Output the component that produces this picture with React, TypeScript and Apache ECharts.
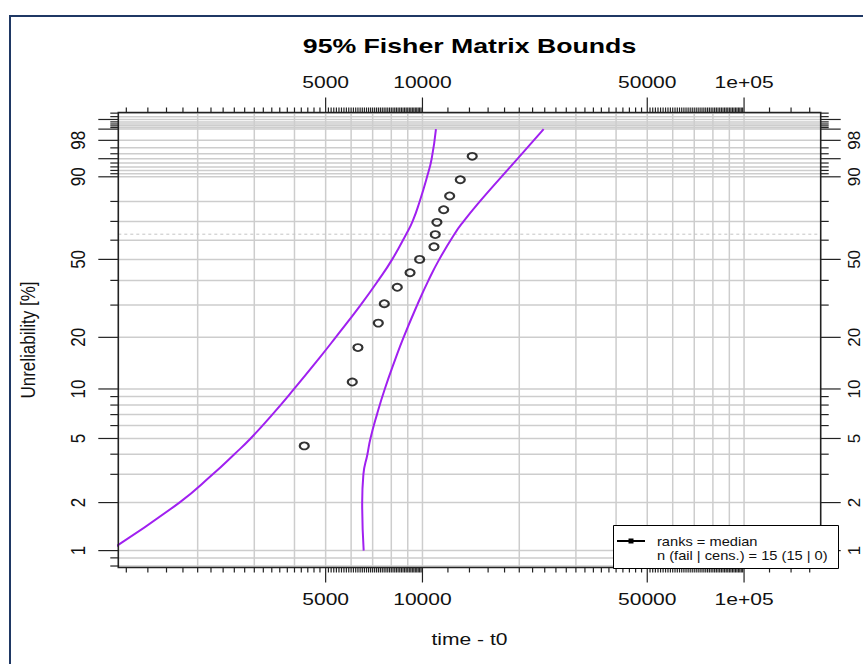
import React, { useEffect, useRef } from "react";
import * as echarts from "echarts";

// ---------- texts ----------
const chartTitle = "95% Fisher Matrix Bounds";
const xAxisTitle = "time - t0";
const yAxisTitle = "Unreliability [%]";
const legendLines = ["ranks = median", "n (fail | cens.) = 15 (15 | 0)"];

// ---------- data ----------
const failureTimes = [4290, 6050, 6300, 7290, 7610, 8350, 9150, 9800, 10860, 10960, 11090, 11640, 12150, 13110, 14280];
const medianRanksPct = [4.5, 11.0, 17.5, 24.0, 30.5, 37.0, 43.5, 50.0, 56.5, 63.0, 69.5, 76.0, 82.5, 89.0, 95.5];

const boundPct = [1, 2, 3, 4, 5, 7, 10, 15, 20, 30, 40, 50, 63.2, 70, 80, 90, 95, 99];
const lowerBoundTimes = [1064, 1755, 2228, 2601, 2921, 3412, 3989, 4750, 5372, 6420, 7290, 8052, 8899, 9316, 9802, 10335, 10681, 11014];
const upperBoundTimes = [6565, 6495, 6551, 6744, 6891, 7218, 7636, 8234, 8735, 9628, 10439, 11278, 12564, 13422, 15083, 17597, 19770, 23815];

// ---------- axes ----------
const xRange = [1133, 173100];
const yRangePct = [0.783, 99.716];

const xMajorTicks = [5000, 10000, 50000, 100000];
const xTickLabels = ["5000", "10000", "50000", "1e+05"];
const xMinorTickRuns = [
  [1200, 5000, 200],
  [5000, 10000, 100],
  [10000, 50000, 2000],
  [50000, 100000, 1000],
  [100000, 160000, 20000],
];
const xGridValues = [2000, 3000, 4000, 5000, 6000, 7000, 8000, 9000, 10000, 20000, 30000, 40000, 50000, 60000, 70000, 80000, 90000, 100000];

const yLabelPct = [1, 2, 5, 10, 20, 50, 90, 98];
const yTickLabels = ["1", "2", "5", "10", "20", "50", "90", "98"];
const yMajorTickPct = [1, 2, 5, 10, 20, 50, 90, 95, 98, 99, 99.5];
const yMinorTickPct = [0.8, 0.9, 3, 4, 6, 7, 8, 9, 30, 40, 60, 70, 80, 91, 92, 93, 94, 96, 97, 99.1, 99.2, 99.3, 99.4, 99.6, 99.7];
const charLifePct = 63.2;

// Weibull probability transform
const W = (p: number) => Math.log(-Math.log(1 - p / 100));

const X_MIN = xRange[0];
const X_MAX = xRange[1];
const Y_MIN = W(yRangePct[0]);
const Y_MAX = W(yRangePct[1]);

const FONT = "'Liberation Sans', Arial, Helvetica, sans-serif";
const GRID_COLOR = "#cdcdcd";
const BOUND_COLOR = "#A020F0";
const STRETCH = 1.24;

function buildOption() {
  const xMinorTicks: number[] = [];
  for (const [a, b, s] of xMinorTickRuns) {
    for (let v = a; v <= b; v += s) {
      if (!xMajorTicks.includes(v) && !xMinorTicks.includes(v)) xMinorTicks.push(v);
    }
  }
  const yGridPct = [...yMajorTickPct, ...yMinorTickPct];

  const tickStyle = { stroke: "#222", lineWidth: 1.2 };

  return {
    animation: false,
    backgroundColor: "#ffffff",
    grid: { left: 118.3, top: 112.5, width: 702.4, height: 455, containLabel: false, outerBoundsMode: "none" },
    xAxis: {
      type: "log",
      logBase: 10,
      min: X_MIN,
      max: X_MAX,
      axisLine: { show: false },
      axisTick: { show: false },
      axisLabel: { show: false },
      splitLine: { show: false },
    },
    yAxis: {
      type: "value",
      min: Y_MIN,
      max: Y_MAX,
      axisLine: { show: false },
      axisTick: { show: false },
      axisLabel: { show: false },
      splitLine: { show: false },
    },
    series: [
      // vertical grid lines
      {
        type: "custom",
        z: 1,
        silent: true,
        data: xGridValues.map((v) => [v, Y_MIN]),
        renderItem: (_p: any, api: any) => {
          const v = api.value(0);
          const a = api.coord([v, Y_MIN]);
          const b = api.coord([v, Y_MAX]);
          return { type: "line", shape: { x1: a[0], y1: a[1], x2: b[0], y2: b[1] }, style: { stroke: GRID_COLOR, lineWidth: 1.5 } };
        },
      },
      // horizontal grid lines
      {
        type: "custom",
        z: 1,
        silent: true,
        data: yGridPct.map((p) => [X_MIN, W(p)]),
        renderItem: (_p: any, api: any) => {
          const y = api.value(1);
          const a = api.coord([X_MIN, y]);
          const b = api.coord([X_MAX, y]);
          return { type: "line", shape: { x1: a[0], y1: a[1], x2: b[0], y2: b[1] }, style: { stroke: GRID_COLOR, lineWidth: 1.5 } };
        },
      },
      // characteristic life dashed line
      {
        type: "custom",
        z: 1,
        silent: true,
        data: [[X_MIN, W(charLifePct)]],
        renderItem: (_p: any, api: any) => {
          const y = api.value(1);
          const a = api.coord([X_MIN, y]);
          const b = api.coord([X_MAX, y]);
          return {
            type: "line",
            shape: { x1: a[0], y1: a[1], x2: b[0], y2: b[1] },
            style: { stroke: "#c4c4c4", lineWidth: 1, lineDash: [3, 3] },
          };
        },
      },
      // bounds
      {
        name: "lower",
        type: "line",
        z: 3,
        silent: true,
        smooth: 0.5,
        symbol: "none",
        clip: true,
        lineStyle: { color: BOUND_COLOR, width: 2 },
        data: lowerBoundTimes.map((t, i) => [t, W(boundPct[i])]),
      },
      {
        name: "upper",
        type: "line",
        z: 3,
        silent: true,
        smooth: 0.5,
        symbol: "none",
        clip: true,
        lineStyle: { color: BOUND_COLOR, width: 2 },
        data: upperBoundTimes.map((t, i) => [t, W(boundPct[i])]),
      },
      // points
      {
        name: "ranks",
        type: "scatter",
        z: 4,
        silent: true,
        symbol: "circle",
        symbolSize: [9, 7],
        itemStyle: { color: "rgba(255,255,255,0)", borderColor: "#000", borderWidth: 2 },
        data: failureTimes.map((t, i) => [t, W(medianRanksPct[i])]),
      },
      // plot box
      {
        type: "custom",
        z: 5,
        silent: true,
        data: [[X_MIN, Y_MIN]],
        renderItem: (_p: any, api: any) => {
          const a = api.coord([X_MIN, Y_MAX]);
          const b = api.coord([X_MAX, Y_MIN]);
          return {
            type: "rect",
            shape: { x: a[0], y: a[1], width: b[0] - a[0], height: b[1] - a[1] },
            style: { fill: "none", stroke: "#222", lineWidth: 1.6 },
          };
        },
      },
      // x ticks (top and bottom)
      {
        type: "custom",
        z: 5,
        silent: true,
        data: [...xMinorTicks.map((v) => [v, Y_MIN, 0]), ...xMajorTicks.map((v) => [v, Y_MIN, 1])],
        renderItem: (_p: any, api: any) => {
          const v = api.value(0);
          const len = api.value(2) ? 15 : 5;
          const b = api.coord([v, Y_MIN]);
          const t = api.coord([v, Y_MAX]);
          return {
            type: "group",
            children: [
              { type: "line", shape: { x1: b[0], y1: b[1], x2: b[0], y2: b[1] + len }, style: tickStyle },
              { type: "line", shape: { x1: t[0], y1: t[1], x2: t[0], y2: t[1] - len }, style: tickStyle },
            ],
          };
        },
      },
      // y ticks (left and right)
      {
        type: "custom",
        z: 5,
        silent: true,
        data: [...yMinorTickPct.map((p) => [X_MIN, W(p), 0]), ...yMajorTickPct.map((p) => [X_MIN, W(p), 1])],
        renderItem: (_p: any, api: any) => {
          const y = api.value(1);
          const len = api.value(2) ? 20 : 8;
          const l = api.coord([X_MIN, y]);
          const r = api.coord([X_MAX, y]);
          return {
            type: "group",
            children: [
              { type: "line", shape: { x1: l[0], y1: l[1], x2: l[0] - len, y2: l[1] }, style: tickStyle },
              { type: "line", shape: { x1: r[0], y1: r[1], x2: r[0] + len, y2: r[1] }, style: tickStyle },
            ],
          };
        },
      },
      // x tick labels
      {
        type: "custom",
        z: 6,
        silent: true,
        data: xMajorTicks.map((v, i) => [v, Y_MIN, i]),
        renderItem: (_p: any, api: any) => {
          const v = api.value(0);
          const i = api.value(2);
          const b = api.coord([v, Y_MIN]);
          const t = api.coord([v, Y_MAX]);
          const mk = (y: number) => ({
            type: "text",
            x: b[0],
            y,
            scaleX: STRETCH,
            style: { text: xTickLabels[i], fontSize: 17, fontFamily: FONT, fill: "#111", align: "center", verticalAlign: "middle" },
          });
          return { type: "group", children: [mk(b[1] + 32), mk(t[1] - 30)] };
        },
      },
      // y tick labels
      {
        type: "custom",
        z: 6,
        silent: true,
        data: yLabelPct.map((p, i) => [X_MIN, W(p), i]),
        renderItem: (_p: any, api: any) => {
          const y = api.value(1);
          const i = api.value(2);
          const l = api.coord([X_MIN, y]);
          const r = api.coord([X_MAX, y]);
          const mk = (x: number, sy: number) => ({
            type: "text",
            x,
            y: l[1],
            rotation: Math.PI / 2,
            scaleY: sy,
            style: { text: yTickLabels[i], fontSize: 17, fontFamily: FONT, fill: "#111", align: "center", verticalAlign: "middle" },
          });
          return { type: "group", children: [mk(l[0] - 40, 1.2), mk(r[0] + 34, 1.0)] };
        },
      },
    ],
    graphic: [
      // outer frame
      {
        type: "rect",
        z: 100,
        silent: true,
        shape: { x: 10, y: 16, width: 1000, height: 1000 },
        style: { fill: "none", stroke: "#1F3864", lineWidth: 2 },
      },
      {
        type: "text",
        z: 100,
        x: 469.5,
        y: 46,
        scaleX: 1.27,
        style: { text: chartTitle, fontSize: 21, fontWeight: "bold", fontFamily: FONT, fill: "#000", align: "center", verticalAlign: "middle" },
      },
      {
        type: "text",
        z: 100,
        x: 469.5,
        y: 639,
        scaleX: STRETCH,
        style: { text: xAxisTitle, fontSize: 17, fontFamily: FONT, fill: "#111", align: "center", verticalAlign: "middle" },
      },
      {
        type: "text",
        z: 100,
        x: 28,
        y: 340,
        rotation: Math.PI / 2,
        scaleY: 1.2,
        style: { text: yAxisTitle, fontSize: 17, fontFamily: FONT, fill: "#111", align: "center", verticalAlign: "middle" },
      },
      // legend
      {
        type: "rect",
        z: 100,
        silent: true,
        shape: { x: 613.5, y: 525.5, width: 225, height: 43 },
        style: { fill: "#fff", stroke: "#000", lineWidth: 1 },
      },
      {
        type: "line",
        z: 101,
        silent: true,
        shape: { x1: 617, y1: 541, x2: 645, y2: 541 },
        style: { stroke: "#000", lineWidth: 2 },
      },
      {
        type: "rect",
        z: 101,
        silent: true,
        shape: { x: 628.5, y: 538.5, width: 5, height: 5 },
        style: { fill: "#000" },
      },
      {
        type: "text",
        z: 101,
        x: 657,
        y: 541.5,
        scaleX: 1.22,
        style: { text: legendLines[0], fontSize: 12, fontFamily: FONT, fill: "#111", align: "left", verticalAlign: "middle" },
      },
      {
        type: "text",
        z: 101,
        x: 657,
        y: 556,
        scaleX: 1.22,
        style: { text: legendLines[1], fontSize: 12, fontFamily: FONT, fill: "#111", align: "left", verticalAlign: "middle" },
      },
    ],
  };
}

export default function App() {
  const ref = useRef<HTMLDivElement>(null);
  useEffect(() => {
    if (!ref.current) return;
    const chart = echarts.init(ref.current, null, { renderer: "svg" });
    chart.setOption(buildOption() as any);
    return () => chart.dispose();
  }, []);
  return (
    <div
      ref={ref}
      style={{ position: "absolute", left: 0, top: 0, width: 863, height: 664, background: "#fff" }}
    />
  );
}
